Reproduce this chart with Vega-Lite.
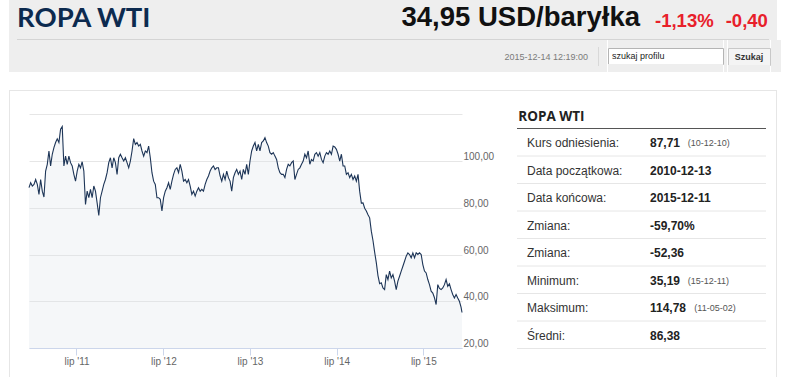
{
"$schema": "https://vega.github.io/schema/vega-lite/v6.json",
"padding": {"left": 9, "top": 0, "right": 0, "bottom": 0},
"background": "white",
"config": {"view": {"stroke": null}, "concat": {"spacing": 0}, "text": {"font": "Liberation Sans"}},
"datasets": {"wti": [
{"date":"2010-12-13","price":88.6},{"date":"2010-12-20","price":90.7},{"date":"2010-12-27","price":89.3},
{"date":"2011-01-03","price":90.0},{"date":"2011-01-10","price":92.1},{"date":"2011-01-17","price":90.0},{"date":"2011-01-24","price":85.7},{"date":"2011-01-31","price":92.1},
{"date":"2011-02-07","price":87.1},{"date":"2011-02-14","price":84.6},{"date":"2011-02-21","price":95.7},{"date":"2011-02-28","price":98.6},
{"date":"2011-03-07","price":104.3},{"date":"2011-03-14","price":97.9},{"date":"2011-03-21","price":102.9},{"date":"2011-03-28","price":105.7},
{"date":"2011-04-04","price":107.9},{"date":"2011-04-11","price":109.5},{"date":"2011-04-18","price":107.9},{"date":"2011-04-25","price":113.6},
{"date":"2011-05-02","price":114.78},{"date":"2011-05-09","price":97.9},{"date":"2011-05-16","price":102.1},{"date":"2011-05-23","price":98.6},{"date":"2011-05-30","price":102.1},
{"date":"2011-06-06","price":99.3},{"date":"2011-06-13","price":97.9},{"date":"2011-06-20","price":94.3},{"date":"2011-06-27","price":91.4},
{"date":"2011-07-04","price":95.7},{"date":"2011-07-11","price":98.6},{"date":"2011-07-18","price":97.1},{"date":"2011-07-25","price":99.7},
{"date":"2011-08-01","price":95.7},{"date":"2011-08-08","price":81.4},{"date":"2011-08-15","price":87.1},{"date":"2011-08-22","price":84.3},{"date":"2011-08-29","price":87.9},
{"date":"2011-09-05","price":84.3},{"date":"2011-09-12","price":89.3},{"date":"2011-09-19","price":87.1},{"date":"2011-09-26","price":82.1},
{"date":"2011-10-03","price":76.7},{"date":"2011-10-10","price":84.3},{"date":"2011-10-17","price":87.1},{"date":"2011-10-24","price":90.0},{"date":"2011-10-31","price":92.1},
{"date":"2011-11-07","price":95.0},{"date":"2011-11-14","price":99.3},{"date":"2011-11-21","price":101.4},{"date":"2011-11-28","price":97.1},
{"date":"2011-12-05","price":101.4},{"date":"2011-12-12","price":99.3},{"date":"2011-12-19","price":94.3},{"date":"2011-12-26","price":101.4},
{"date":"2012-01-02","price":102.9},{"date":"2012-01-09","price":101.4},{"date":"2012-01-16","price":100.0},{"date":"2012-01-23","price":101.4},{"date":"2012-01-30","price":99.3},
{"date":"2012-02-06","price":97.1},{"date":"2012-02-13","price":100.0},{"date":"2012-02-20","price":104.3},{"date":"2012-02-27","price":109.6},
{"date":"2012-03-05","price":107.1},{"date":"2012-03-12","price":107.9},{"date":"2012-03-19","price":106.4},{"date":"2012-03-26","price":107.1},
{"date":"2012-04-02","price":104.3},{"date":"2012-04-09","price":102.1},{"date":"2012-04-16","price":104.3},{"date":"2012-04-23","price":103.6},{"date":"2012-04-30","price":106.4},
{"date":"2012-05-07","price":101.4},{"date":"2012-05-14","price":95.0},{"date":"2012-05-21","price":91.4},{"date":"2012-05-28","price":90.0},
{"date":"2012-06-04","price":84.3},{"date":"2012-06-11","price":84.3},{"date":"2012-06-18","price":83.6},{"date":"2012-06-25","price":78.6},
{"date":"2012-07-02","price":84.3},{"date":"2012-07-09","price":87.1},{"date":"2012-07-16","price":88.6},{"date":"2012-07-23","price":90.7},{"date":"2012-07-30","price":87.9},
{"date":"2012-08-06","price":91.4},{"date":"2012-08-13","price":94.3},{"date":"2012-08-20","price":96.4},{"date":"2012-08-27","price":97.1},
{"date":"2012-09-03","price":95.0},{"date":"2012-09-10","price":98.6},{"date":"2012-09-17","price":95.7},{"date":"2012-09-24","price":91.4},
{"date":"2012-10-01","price":92.1},{"date":"2012-10-08","price":90.7},{"date":"2012-10-15","price":92.1},{"date":"2012-10-22","price":89.3},{"date":"2012-10-29","price":85.7},
{"date":"2012-11-05","price":87.1},{"date":"2012-11-12","price":85.0},{"date":"2012-11-19","price":87.1},{"date":"2012-11-26","price":88.6},
{"date":"2012-12-03","price":87.1},{"date":"2012-12-10","price":87.9},{"date":"2012-12-17","price":87.1},{"date":"2012-12-24","price":90.0},{"date":"2012-12-31","price":92.1},
{"date":"2013-01-07","price":93.6},{"date":"2013-01-14","price":95.7},{"date":"2013-01-21","price":97.1},{"date":"2013-01-28","price":97.9},
{"date":"2013-02-04","price":96.4},{"date":"2013-02-11","price":97.1},{"date":"2013-02-18","price":97.1},{"date":"2013-02-25","price":93.6},
{"date":"2013-03-04","price":91.4},{"date":"2013-03-11","price":94.3},{"date":"2013-03-18","price":92.1},{"date":"2013-03-25","price":95.7},
{"date":"2013-04-01","price":92.9},{"date":"2013-04-08","price":91.4},{"date":"2013-04-15","price":87.1},{"date":"2013-04-22","price":92.9},{"date":"2013-04-29","price":95.0},
{"date":"2013-05-06","price":96.4},{"date":"2013-05-13","price":94.3},{"date":"2013-05-20","price":95.7},{"date":"2013-05-27","price":92.1},
{"date":"2013-06-03","price":96.4},{"date":"2013-06-10","price":94.3},{"date":"2013-06-17","price":98.6},{"date":"2013-06-24","price":94.3},
{"date":"2013-07-01","price":100.0},{"date":"2013-07-08","price":104.3},{"date":"2013-07-15","price":106.4},{"date":"2013-07-22","price":107.9},{"date":"2013-07-29","price":104.3},
{"date":"2013-08-05","price":107.1},{"date":"2013-08-12","price":104.3},{"date":"2013-08-19","price":107.9},{"date":"2013-08-26","price":108.6},
{"date":"2013-09-02","price":110.0},{"date":"2013-09-09","price":107.9},{"date":"2013-09-16","price":106.4},{"date":"2013-09-23","price":103.6},{"date":"2013-09-30","price":102.9},
{"date":"2013-10-07","price":103.6},{"date":"2013-10-14","price":102.1},{"date":"2013-10-21","price":100.7},{"date":"2013-10-28","price":97.1},
{"date":"2013-11-04","price":95.0},{"date":"2013-11-11","price":94.3},{"date":"2013-11-18","price":94.3},{"date":"2013-11-25","price":92.9},
{"date":"2013-12-02","price":96.4},{"date":"2013-12-09","price":98.6},{"date":"2013-12-16","price":97.9},{"date":"2013-12-23","price":99.3},{"date":"2013-12-30","price":100.0},
{"date":"2014-01-06","price":92.1},{"date":"2014-01-13","price":94.3},{"date":"2014-01-20","price":96.4},{"date":"2014-01-27","price":97.1},
{"date":"2014-02-03","price":98.6},{"date":"2014-02-10","price":100.0},{"date":"2014-02-17","price":102.9},{"date":"2014-02-24","price":101.4},
{"date":"2014-03-03","price":104.3},{"date":"2014-03-10","price":98.6},{"date":"2014-03-17","price":100.7},{"date":"2014-03-24","price":100.0},{"date":"2014-03-31","price":102.9},
{"date":"2014-04-07","price":103.6},{"date":"2014-04-14","price":102.1},{"date":"2014-04-21","price":103.6},{"date":"2014-04-28","price":100.7},
{"date":"2014-05-05","price":99.3},{"date":"2014-05-12","price":102.1},{"date":"2014-05-19","price":103.6},{"date":"2014-05-26","price":102.9},
{"date":"2014-06-02","price":104.3},{"date":"2014-06-09","price":102.9},{"date":"2014-06-16","price":106.4},{"date":"2014-06-23","price":106.0},{"date":"2014-06-30","price":105.0},
{"date":"2014-07-07","price":102.9},{"date":"2014-07-14","price":100.0},{"date":"2014-07-21","price":102.9},{"date":"2014-07-28","price":97.9},
{"date":"2014-08-04","price":97.9},{"date":"2014-08-11","price":94.3},{"date":"2014-08-18","price":95.0},{"date":"2014-08-25","price":92.9},
{"date":"2014-09-01","price":94.3},{"date":"2014-09-08","price":92.1},{"date":"2014-09-15","price":93.6},{"date":"2014-09-22","price":91.4},{"date":"2014-09-29","price":94.3},
{"date":"2014-10-06","price":87.0},{"date":"2014-10-13","price":82.0},{"date":"2014-10-20","price":82.1},{"date":"2014-10-27","price":79.8},
{"date":"2014-11-03","price":78.6},{"date":"2014-11-10","price":77.0},{"date":"2014-11-17","price":75.7},{"date":"2014-11-24","price":70.0},
{"date":"2014-12-01","price":66.0},{"date":"2014-12-08","price":61.0},{"date":"2014-12-15","price":56.5},{"date":"2014-12-22","price":51.0},{"date":"2014-12-29","price":47.5},
{"date":"2015-01-05","price":47.9},{"date":"2015-01-12","price":45.7},{"date":"2015-01-19","price":45.0},{"date":"2015-01-26","price":51.4},
{"date":"2015-02-02","price":49.3},{"date":"2015-02-09","price":52.9},{"date":"2015-02-16","price":50.0},{"date":"2015-02-23","price":51.4},
{"date":"2015-03-02","price":48.6},{"date":"2015-03-09","price":45.0},{"date":"2015-03-16","price":48.6},{"date":"2015-03-23","price":50.7},{"date":"2015-03-30","price":52.9},
{"date":"2015-04-06","price":55.0},{"date":"2015-04-13","price":57.1},{"date":"2015-04-20","price":59.3},{"date":"2015-04-27","price":60.7},
{"date":"2015-05-04","price":60.0},{"date":"2015-05-11","price":58.6},{"date":"2015-05-18","price":60.7},{"date":"2015-05-25","price":58.6},
{"date":"2015-06-01","price":60.7},{"date":"2015-06-08","price":60.0},{"date":"2015-06-15","price":60.7},{"date":"2015-06-22","price":60.0},{"date":"2015-06-29","price":55.7},
{"date":"2015-07-06","price":52.9},{"date":"2015-07-13","price":52.1},{"date":"2015-07-20","price":49.3},{"date":"2015-07-27","price":47.1},
{"date":"2015-08-03","price":44.3},{"date":"2015-08-10","price":43.5},{"date":"2015-08-17","price":41.5},{"date":"2015-08-24","price":38.6},{"date":"2015-08-31","price":47.1},
{"date":"2015-09-07","price":45.5},{"date":"2015-09-14","price":45.0},{"date":"2015-09-21","price":45.7},{"date":"2015-09-28","price":47.1},
{"date":"2015-10-05","price":49.3},{"date":"2015-10-12","price":46.4},{"date":"2015-10-19","price":47.5},{"date":"2015-10-26","price":45.0},
{"date":"2015-11-02","price":42.9},{"date":"2015-11-09","price":41.4},{"date":"2015-11-16","price":42.9},{"date":"2015-11-23","price":41.4},{"date":"2015-11-30","price":40.0},
{"date":"2015-12-07","price":37.5},{"date":"2015-12-11","price":35.19}
]},
"spacing": 0,
"vconcat": [
 {"spacing": 0, "vconcat": [
  {"width": 768, "height": 39, "view": {"fill": "#eeeeee"},
   "data": {"values": [{"part": "title", "text": "ROPA WTI"}, {"part": "price", "text": "34,95 USD/baryłka"}, {"part": "pct", "text": "-1,13%"}, {"part": "chg", "text": "-0,40"}]},
   "layer": [
    {"transform": [{"filter": "datum.part === 'title'"}], "mark": {"type": "text", "align": "left", "baseline": "alphabetic", "dx": -376, "dy": 7.3, "font": "Lato", "fontWeight": "bold", "fontSize": 27.5, "color": "#0c2a4f"}, "encoding": {"text": {"field": "text"}}},
    {"transform": [{"filter": "datum.part === 'price'"}], "mark": {"type": "text", "align": "right", "baseline": "alphabetic", "dx": 247, "dy": 6.8, "font": "Liberation Sans", "fontWeight": "bold", "fontSize": 27.5, "color": "#111111"}, "encoding": {"text": {"field": "text"}}},
    {"transform": [{"filter": "datum.part === 'pct'"}], "mark": {"type": "text", "align": "left", "baseline": "alphabetic", "dx": 262, "dy": 7, "font": "Liberation Sans", "fontWeight": "bold", "fontSize": 18.5, "color": "#e8202a"}, "encoding": {"text": {"field": "text"}}},
    {"transform": [{"filter": "datum.part === 'chg'"}], "mark": {"type": "text", "align": "left", "baseline": "alphabetic", "dx": 332.7, "dy": 7, "font": "Liberation Sans", "fontWeight": "bold", "fontSize": 18.5, "color": "#e8202a"}, "encoding": {"text": {"field": "text"}}}
   ]},
  {"bounds": "flush", "spacing": 0, "hconcat": [
   {"width": 8, "height": 1, "data": {"values": []}, "mark": "text", "view": {"fill": "#eeeeee"}},
   {"width": 752, "height": 1, "data": {"values": []}, "mark": "text", "view": {"fill": "#d4d4d4"}},
   {"width": 8, "height": 1, "data": {"values": []}, "mark": "text", "view": {"fill": "#eeeeee"}}
  ]},
  {"spacing": 0, "hconcat": [
   {"width": 589, "height": 32, "view": {"fill": "#eeeeee"}, "data": {"values": [{"text": "2015-12-14 12:19:00"}]},
    "mark": {"type": "text", "align": "right", "baseline": "middle", "dx": 284.5, "dy": 0.5, "fontSize": 9, "color": "#7a7a7a"}, "encoding": {"text": {"field": "text"}}},
   {"bounds": "flush", "spacing": 0, "vconcat": [
    {"width": 1, "height": 7, "data": {"values": []}, "mark": "text", "view": {"fill": "#eeeeee"}},
    {"width": 1, "height": 19, "data": {"values": []}, "mark": "text", "view": {"fill": "#d8d8d8"}},
    {"width": 1, "height": 6, "data": {"values": []}, "mark": "text", "view": {"fill": "#eeeeee"}}
   ]},
   {"width": 8, "height": 32, "data": {"values": []}, "mark": "text", "view": {"fill": "#eeeeee"}},
   {"bounds": "flush", "spacing": 0, "vconcat": [
    {"width": 115, "height": 8, "data": {"values": []}, "mark": "text", "view": {"fill": "#eeeeee"}},
    {"width": 115, "height": 16, "view": {"fill": "#ffffff", "stroke": "#b4b4b4"}, "data": {"values": [{"text": "szukaj profilu"}]},
     "mark": {"type": "text", "align": "left", "baseline": "middle", "dx": -53.5, "fontSize": 9, "color": "#222222"}, "encoding": {"text": {"field": "text"}}},
    {"width": 115, "height": 8, "data": {"values": []}, "mark": "text", "view": {"fill": "#eeeeee"}}
   ]},
   {"width": 3, "height": 32, "data": {"values": []}, "mark": "text", "view": {"fill": "#eeeeee"}},
   {"bounds": "flush", "spacing": 0, "vconcat": [
    {"width": 42, "height": 8, "data": {"values": []}, "mark": "text", "view": {"fill": "#eeeeee"}},
    {"width": 42, "height": 17, "view": {"fill": "#f4f4f4", "stroke": "#c8c8c8"}, "data": {"values": [{"text": "Szukaj"}]},
     "mark": {"type": "text", "align": "center", "baseline": "middle", "fontSize": 9, "fontWeight": "bold", "color": "#333333"}, "encoding": {"text": {"field": "text"}}},
    {"width": 42, "height": 7, "data": {"values": []}, "mark": "text", "view": {"fill": "#eeeeee"}}
   ]},
   {"width": 10, "height": 32, "data": {"values": []}, "mark": "text", "view": {"fill": "#eeeeee"}}
  ]}
 ]},
 {"width": 768, "height": 18, "data": {"values": []}, "mark": "text"},
 {"width": 768, "height": 1, "data": {"values": []}, "mark": "text", "view": {"fill": "#e6e6e6"}},
 {"bounds": "flush", "spacing": 0, "hconcat": [
  {"width": 1, "height": 13, "data": {"values": []}, "mark": "text", "view": {"fill": "#e6e6e6"}},
  {"width": 766, "height": 13, "data": {"values": []}, "mark": "text"},
  {"width": 1, "height": 13, "data": {"values": []}, "mark": "text", "view": {"fill": "#e6e6e6"}}
 ]},
 {"bounds": "flush", "spacing": 0, "hconcat": [
  {"width": 1, "height": 273, "data": {"values": []}, "mark": "text", "view": {"fill": "#e6e6e6"}},
  {"width": 19, "height": 244, "data": {"values": []}, "mark": "text"},
  {"width": 433, "height": 244,
   "data": {"name": "wti"},
   "encoding": {
    "x": {"field": "date", "type": "temporal", "scale": {"nice": false},
     "axis": {"values": [{"year": 2011, "month": "jul", "date": 1}, {"year": 2012, "month": "jul", "date": 1}, {"year": 2013, "month": "jul", "date": 1}, {"year": 2014, "month": "jul", "date": 1}, {"year": 2015, "month": "jul", "date": 1}],
      "labelExpr": "\"lip '\" + timeFormat(datum.value, '%y')", "title": null, "grid": false, "domainColor": "#ccd6eb", "tickColor": "#ccd6eb", "tickSize": 7, "labelPadding": 1, "labelFont": "Liberation Sans", "labelFontSize": 10, "labelColor": "#666666", "zindex": 1}},
    "y": {"field": "price", "type": "quantitative", "scale": {"domain": [20, 124.4], "nice": false, "zero": false},
     "axis": {"orient": "right", "values": [20, 40, 60, 80, 100, 120], "labelExpr": "datum.value >= 120 ? '' : replace(format(datum.value, '.2f'), '.', ',')", "title": null, "grid": true, "gridColor": "#e6e6e6", "domain": false, "ticks": false, "labelAlign": "left", "labelBaseline": "alphabetic", "labelPadding": 1, "labelOffset": -1.5, "labelFont": "Liberation Sans", "labelFontSize": 10, "labelColor": "#666666"}}
   },
   "layer": [
    {"mark": {"type": "area", "color": "#dfe4ec", "opacity": 0.3}, "encoding": {"y2": {"datum": 20}}},
    {"mark": {"type": "line", "color": "#1d3557", "strokeWidth": 1.1}}
   ]},
  {"width": 55, "height": 244, "data": {"values": []}, "mark": "text"},
  {"width": 249, "height": 244,
   "data": {"values": [
    {"r": 0, "label": "ROPA WTI", "value": "", "note": ""},
    {"r": 1, "label": "Kurs odniesienia:", "value": "87,71", "note": "(10-12-10)"},
    {"r": 2, "label": "Data początkowa:", "value": "2010-12-13", "note": ""},
    {"r": 3, "label": "Data końcowa:", "value": "2015-12-11", "note": ""},
    {"r": 4, "label": "Zmiana:", "value": "-59,70%", "note": ""},
    {"r": 5, "label": "Zmiana:", "value": "-52,36", "note": ""},
    {"r": 6, "label": "Minimum:", "value": "35,19", "note": "(15-12-11)"},
    {"r": 7, "label": "Maksimum:", "value": "114,78", "note": "(11-05-02)"},
    {"r": 8, "label": "Średni:", "value": "86,38", "note": ""}
   ]},
   "encoding": {"y": {"field": "r", "type": "ordinal", "scale": {"range": [-3, 244.5], "paddingInner": 0, "paddingOuter": 0}, "axis": null}},
   "layer": [
    {"mark": {"type": "rule", "strokeWidth": 1}, "encoding": {"y": {"field": "r", "type": "ordinal", "bandPosition": 1}, "color": {"condition": {"test": "datum.r === 0", "value": "#555555"}, "value": "#e6e6e6"}}},
    {"transform": [{"filter": "datum.r === 0"}], "mark": {"type": "text", "align": "left", "baseline": "middle", "dx": -123.2, "dy": 2.25, "font": "Open Sans", "fontWeight": "bold", "fontSize": 13.5, "color": "#222222"}, "encoding": {"text": {"field": "label"}}},
    {"transform": [{"filter": "datum.r > 0"}], "mark": {"type": "text", "align": "left", "baseline": "middle", "dx": -114.5, "dy": 1, "fontSize": 12, "color": "#333333"}, "encoding": {"text": {"field": "label"}}},
    {"transform": [{"filter": "datum.r > 0"}], "mark": {"type": "text", "align": "left", "baseline": "middle", "dx": 8.5, "dy": 1, "fontSize": 12, "fontWeight": "bold", "color": "#222222"}, "encoding": {"text": {"field": "value"}}},
    {"transform": [{"filter": "datum.note !== '' && length(datum.value) <= 5"}], "mark": {"type": "text", "align": "left", "baseline": "middle", "dx": 46.2, "dy": 1, "fontSize": 9, "color": "#555555"}, "encoding": {"text": {"field": "note"}}},
    {"transform": [{"filter": "datum.note !== '' && length(datum.value) > 5"}], "mark": {"type": "text", "align": "left", "baseline": "middle", "dx": 52.8, "dy": 1, "fontSize": 9, "color": "#555555"}, "encoding": {"text": {"field": "note"}}}
   ]},
  {"width": 10, "height": 244, "data": {"values": []}, "mark": "text"},
  {"width": 1, "height": 273, "data": {"values": []}, "mark": "text", "view": {"fill": "#e6e6e6"}}
 ]}
]
}
